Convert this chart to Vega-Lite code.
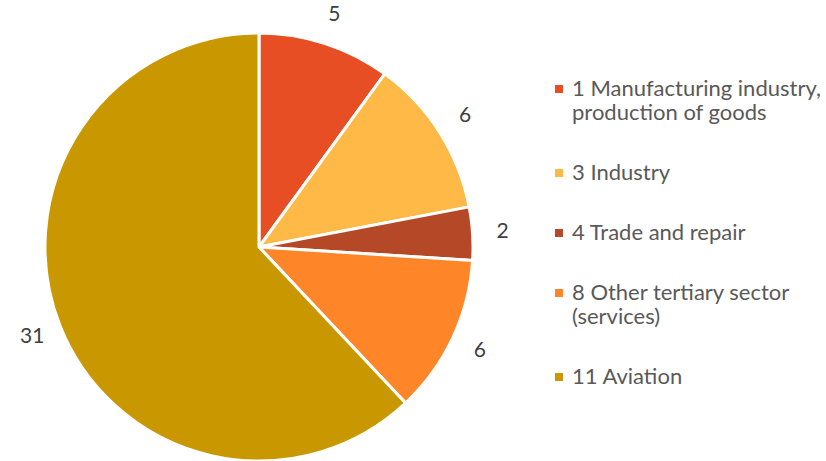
{
  "$schema": "https://vega.github.io/schema/vega-lite/v6.json",
  "width": 518,
  "height": 494,
  "autosize": {"type": "none"},
  "padding": {"left": 0, "top": 0, "right": 308, "bottom": 0},
  "background": "white",
  "config": {"view": {"stroke": null}, "font": "Lato"},
  "data": {
    "values": [
      {"category": "1 Manufacturing industry, production of goods", "value": 5, "order": 1},
      {"category": "3 Industry", "value": 6, "order": 2},
      {"category": "4 Trade and repair", "value": 2, "order": 3},
      {"category": "8 Other tertiary sector (services)", "value": 6, "order": 4},
      {"category": "11 Aviation", "value": 31, "order": 5}
    ]
  },
  "encoding": {
    "theta": {"field": "value", "type": "quantitative", "stack": true},
    "order": {"field": "order", "type": "quantitative"}
  },
  "layer": [
    {
      "mark": {"type": "arc", "outerRadius": 214, "stroke": "white", "strokeWidth": 3},
      "encoding": {
        "color": {
          "field": "category",
          "type": "nominal",
          "scale": {
            "domain": ["1 Manufacturing industry, production of goods", "3 Industry", "4 Trade and repair", "8 Other tertiary sector (services)", "11 Aviation"],
            "range": ["#E84E24", "#FEB947", "#B54826", "#FF8628", "#C99800"]
          },
          "legend": {
            "title": null,
            "orient": "none",
            "legendX": 548,
            "legendY": 78,
            "symbolType": "square",
            "symbolSize": 64,
            "symbolStrokeWidth": 0,
            "labelFontSize": 22,
            "labelColor": "#595959",
            "labelFont": "Lato",
            "labelLimit": 400,
            "labelOffset": 2,
            "rowPadding": 38,
            "labelExpr": "datum.label == '1 Manufacturing industry, production of goods' ? ['1 Manufacturing industry,', 'production of goods'] : datum.label == '8 Other tertiary sector (services)' ? ['8 Other tertiary sector', '(services)'] : datum.label"
          }
        }
      }
    },
    {
      "mark": {"type": "text", "radius": 244, "fontSize": 21, "color": "#404040", "font": "Lato"},
      "encoding": {
        "text": {"field": "value", "type": "quantitative"}
      }
    }
  ]
}
